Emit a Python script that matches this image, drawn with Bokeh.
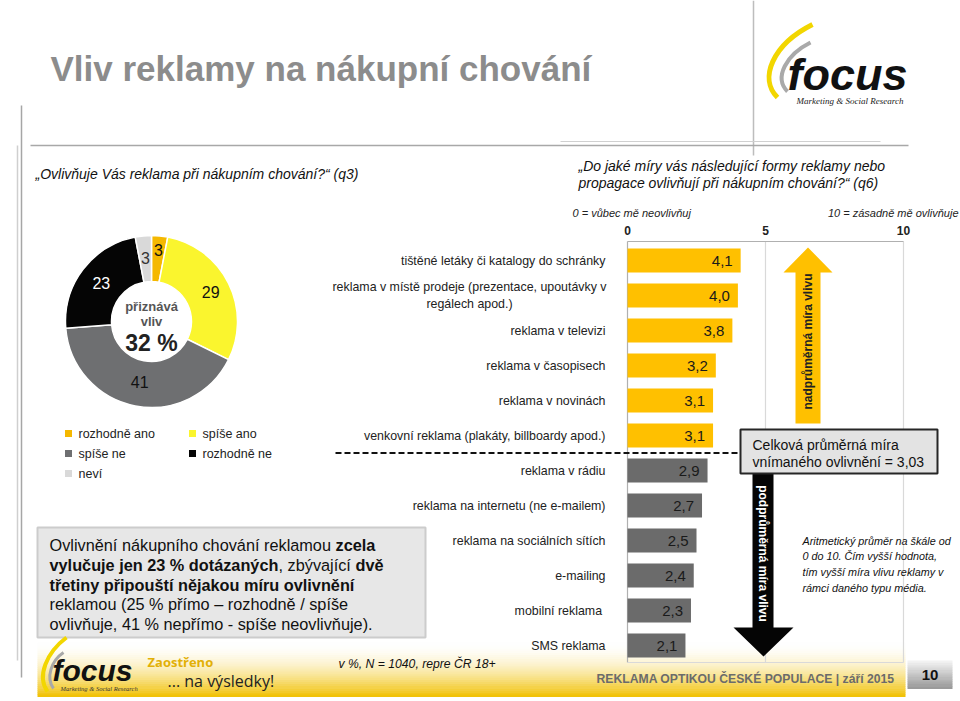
import math
from bokeh.plotting import figure
from bokeh.models import Range1d, ColumnDataSource
from bokeh.core.properties import value
from bokeh.embed import file_html
from bokeh.resources import INLINE

# ---------------- data ----------------
pie_categories = ["rozhodně ano", "spíše ano", "spíše ne", "rozhodně ne", "neví"]
pie_values = [3, 29, 41, 23, 3]

bar_categories = [
    "tištěné letáky či katalogy do schránky",
    "reklama v místě prodeje (prezentace, upoutávky v\nregálech apod.)",
    "reklama v televizi",
    "reklama v časopisech",
    "reklama v novinách",
    "venkovní reklama (plakáty, billboardy apod.)",
    "reklama v rádiu",
    "reklama na internetu (ne e-mailem)",
    "reklama na sociálních sítích",
    "e-mailing",
    "mobilní reklama ",
    "SMS reklama",
]
bar_values = [4.1, 4.0, 3.8, 3.2, 3.1, 3.1, 2.9, 2.7, 2.5, 2.4, 2.3, 2.1]
axis_ticks = [0, 5, 10]
overall_mean = 3.03

# ---------------- styles ----------------
SANS = "Liberation Sans"
PIE_COLORS = ["#F5B800", "#FAF52E", "#6E6F71", "#050505", "#D9D9D9"]
PIE_TEXT = ["#111111", "#111111", "#111111", "#FFFFFF", "#333333"]
PIE_LABEL_R = [72, 66, 62, 63, 64]
BAR_ABOVE = "#FFC000"
BAR_BELOW = "#6B6B6B"

W, H = 960, 701
p = figure(width=W, height=H, x_range=Range1d(0, W), y_range=Range1d(H, 0),
           x_axis_type=None, y_axis_type=None, output_backend="svg",
           toolbar_location=None, min_border=0)
p.grid.visible = False
p.outline_line_color = None
p.background_fill_color = "white"
p.border_fill_color = "white"

# bar chart scales: value 0 -> px 627, 10 -> px 903 ; bar i -> px 260 + 35 i
X0, X10 = 627.0, 903.0
ppu = (X10 - X0) / 10.0
xs = -X0 / ppu
p.extra_x_ranges = {"bar": Range1d(xs, xs + W / ppu)}
Y0, DY = 260.0, 35.0
p.extra_y_ranges = {"bar": Range1d((H - Y0) / DY, -Y0 / DY)}


def txt(x, y, s, size, color="#222222", font=SANS, style="normal",
        align="left", baseline="middle", angle=0.0, **kw):
    p.text(x=[x], y=[y], text=[s], text_font=value(font),
           text_font_size=f"{size}px", text_font_style=style,
           text_color=color, text_align=align, text_baseline=baseline,
           angle=angle, **kw)


# ---------------- footer band (drawn first, beneath everything) ----------------
N = 26
top_f, bot_f = 642.0, 696.0
hstep = (bot_f - top_f) / N
fl, fr, ft, fb, fc = [], [], [], [], []
for k in range(N):
    t = (k + 0.5) / N
    t = t ** 1.8
    r = int(255 + (241 - 255) * t)
    g = int(255 + (192 - 255) * t)
    b = int(255 + (0 - 255) * t)
    fl.append(37); fr.append(905)
    ft.append(top_f + k * hstep); fb.append(top_f + (k + 1) * hstep + 0.5)
    fc.append(f"#{r:02x}{g:02x}{b:02x}")
p.quad(left=fl, right=fr, top=ft, bottom=fb, fill_color=fc, line_color=None)

# page number box
M = 12
pl, pr, pt, pb, pc = [], [], [], [], []
for k in range(M):
    t = (k + 0.5) / M
    c = int(246 + (150 - 246) * t)
    pl.append(907); pr.append(952)
    pt.append(660 + k * 28 / M); pb.append(660 + (k + 1) * 28 / M + 0.5)
    pc.append(f"#{c:02x}{c:02x}{c:02x}")
p.quad(left=pl, right=pr, top=pt, bottom=pb, fill_color=pc, line_color=None)

# ---------------- frame lines ----------------
p.segment(x0=[753], y0=[0], x1=[753], y1=[155], line_color="#BDBDBD", line_width=1.5)
p.segment(x0=[30], y0=[145], x1=[908], y1=[145], line_color="#A8A8A8", line_width=1.5)
p.segment(x0=[560], y0=[141], x1=[880], y1=[141], line_color="#D0D0D0", line_width=1)
p.segment(x0=[17], y0=[145], x1=[17], y1=[660], line_color="#CFCFCF", line_width=1.5)
p.segment(x0=[21], y0=[105], x1=[21], y1=[677], line_color="#A6A6A6", line_width=1.5)

# ---------------- title & questions ----------------
txt(50, 68, "Vliv reklamy na nákupní chování", 35, "#8C8C8C", SANS, "bold")
txt(35, 173, "„Ovlivňuje Vás reklama při nákupním chování?“ (q3)", 14, "#111111", SANS, "italic")
txt(578, 165, "„Do jaké míry vás následující formy reklamy nebo", 14, "#111111", SANS, "italic")
txt(578, 182, "propagace ovlivňují při nákupním chování?“ (q6)", 14, "#111111", SANS, "italic")

# ---------------- top-right logo ----------------
p.bezier(x0=[812], y0=[24], x1=[777], y1=[97], cx0=[772], cy0=[44], cx1=[758], cy1=[78],
         line_color="#F2D600", line_width=5)
p.bezier(x0=[810], y0=[42], x1=[787], y1=[91], cx0=[786], cy0=[54], cx1=[773], cy1=[77],
         line_color="#A9A9A9", line_width=4)
txt(787, 74, "focus", 45, "#111111", SANS, "bold italic")
txt(796, 100, "Marketing & Social Research", 9, "#222222", "Liberation Serif", "italic")

# ---------------- pie (donut) ----------------
CX, CY, R_OUT, R_IN = 151.0, 321.0, 86.0, 40.0
total = float(sum(pie_values))
cum = 0.0
starts, ends, lx, ly = [], [], [], []
for k, v in enumerate(pie_values):
    c0, c1 = cum / total, (cum + v) / total
    cum += v
    starts.append(math.pi / 2 - 2 * math.pi * c1)
    ends.append(math.pi / 2 - 2 * math.pi * c0)
    mid = 2 * math.pi * (c0 + c1) / 2
    lx.append(CX + PIE_LABEL_R[k] * math.sin(mid))
    ly.append(CY - PIE_LABEL_R[k] * math.cos(mid))
pie_src = ColumnDataSource(dict(start=starts, end=ends, color=PIE_COLORS,
                                lx=lx, ly=ly, lab=[str(v) for v in pie_values],
                                tc=PIE_TEXT))
p.annular_wedge(x=CX, y=CY, inner_radius=R_IN, outer_radius=R_OUT,
                inner_radius_units="screen", outer_radius_units="screen",
                start_angle="start", end_angle="end", fill_color="color",
                line_color="white", line_width=1.5, source=pie_src)
p.text(x="lx", y="ly", text="lab", text_color="tc", text_font=value(SANS),
       text_font_size="16px", text_align="center", text_baseline="middle", source=pie_src)
admit = pie_values[0] + pie_values[1]
txt(CX, 306, "přiznává", 13, "#555555", SANS, "bold", "center")
txt(CX, 321, "vliv", 13, "#555555", SANS, "bold", "center")
txt(CX, 342, f"{admit} %", 23, "#222222", SANS, "bold", "center")

# legend
leg_x = [68 + (k % 2) * 124 for k in range(len(pie_categories))]
leg_y = [433 + (k // 2) * 20 for k in range(len(pie_categories))]
p.scatter(x=leg_x, y=leg_y, marker="square", size=7, fill_color=PIE_COLORS, line_color=None)
p.text(x=[x + 10 for x in leg_x], y=leg_y, text=pie_categories, text_font=value(SANS),
       text_font_size="12.5px", text_color="#222222", text_baseline="middle")

# ---------------- left comment box ----------------
p.quad(left=[37], right=[425], top=[527], bottom=[637], fill_color="#E7E7E7",
       line_color="#CCCCCC", line_width=2)
BS = 16.3
txt(49, 544, "Ovlivnění nákupního chování reklamou ", BS, "#111111")
txt(335, 544, "zcela", BS, "#111111", SANS, "bold")
txt(49, 564, "vylučuje jen 23 % dotázaných", BS, "#111111", SANS, "bold")
txt(278, 564, ", zbývající ", BS, "#111111")
txt(355, 564, "dvě", BS, "#111111", SANS, "bold")
txt(49, 584, "třetiny připouští nějakou míru ovlivnění", BS, "#111111", SANS, "bold")
txt(49, 603, "reklamou (25 %  přímo – rozhodně / spíše", BS, "#111111")
txt(49, 623, "ovlivňuje, 41 % nepřímo - spíše neovlivňuje).", BS, "#111111")

# ---------------- bar chart ----------------
idx = list(range(len(bar_values)))
colors = [BAR_ABOVE if v > overall_mean else BAR_BELOW for v in bar_values]
labels = [f"{v:.1f}".replace(".", ",") for v in bar_values]
bar_src = ColumnDataSource(dict(idx=idx, val=bar_values, color=colors, lab=labels))

# grid / axis
p.segment(x0=axis_ticks, x1=axis_ticks, y0=[241] * 3, y1=[662] * 3,
          line_color=["#B0B0B0", "#D9D9D9", "#D9D9D9"], line_width=1.2, x_range_name="bar")
p.segment(x0=[axis_ticks[0], axis_ticks[0]], x1=[axis_ticks[-1], axis_ticks[-1]],
          y0=[241, 662], y1=[241, 662], line_color=["#B0B0B0", "#D9D9D9"],
          line_width=1.2, x_range_name="bar")
p.text(x=axis_ticks, y=[230] * 3, text=[str(t) for t in axis_ticks], text_font=value(SANS),
       text_font_size="12px", text_font_style="bold", text_align="center",
       text_baseline="middle", text_color="#222222", x_range_name="bar")
txt(572, 212, "0 =  vůbec mě neovlivňuj", 11, "#222222", SANS, "italic")
txt(958, 212, "10 = zásadně mě ovlivňuje", 11, "#222222", SANS, "italic", "right")

p.hbar(y="idx", left=0, right="val", height=0.69, fill_color="color", line_color=None,
       source=bar_src, x_range_name="bar", y_range_name="bar")
p.text(x="val", y="idx", text="lab", x_offset=-8, text_align="right", text_baseline="middle",
       text_font=value(SANS), text_font_size="15px", text_color="#1A1A1A",
       source=bar_src, x_range_name="bar", y_range_name="bar")

single = [k for k, c in enumerate(bar_categories) if "\n" not in c]
multi = [k for k, c in enumerate(bar_categories) if "\n" in c]
p.text(x=[0] * len(single), y=single, text=[bar_categories[k] for k in single], x_offset=-22,
       text_align="right", text_baseline="middle", text_font=value(SANS),
       text_font_size="12.4px", text_color="#222222", x_range_name="bar", y_range_name="bar")
p.text(x=[0] * len(multi), y=multi, text=[bar_categories[k] for k in multi], x_offset=-158,
       text_align="center", text_baseline="middle", text_font=value(SANS),
       text_font_size="12.4px", text_color="#222222", text_line_height=1.15,
       x_range_name="bar", y_range_name="bar")

# divider between above- and below-average media
n_above = sum(1 for v in bar_values if v > overall_mean)
p.segment(x0=[335], x1=[740], y0=[n_above - 0.5], y1=[n_above - 0.5], line_color="#111111",
          line_width=2, line_dash="6 3", y_range_name="bar")

# arrows
p.patch(x=[795, 795, 783, 807.5, 832, 820, 820], y=[423, 272, 272, 247, 272, 272, 423],
        fill_color="#FFC000", line_color=None)
txt(807.5, 341, "nadprůměrná míra vlivu", 12, "#222222", SANS, "bold", "center", angle=math.pi / 2)
p.patch(x=[752, 752, 733, 763, 793, 773, 773], y=[473, 627, 627, 656, 627, 627, 473],
        fill_color="#050505", line_color=None)
txt(762.5, 553, "podprůměrná míra vlivu", 12, "#FFFFFF", SANS, "bold", "center", angle=-math.pi / 2)

# mean box
p.quad(left=[740], right=[937], top=[429], bottom=[473], fill_color="#E3E3E3",
       line_color="#262626", line_width=2)
mean_txt = f"{overall_mean:.2f}".replace(".", ",")
txt(752, 444, "Celková průměrná míra", 14, "#111111")
txt(752, 461, f"vnímaného ovlivnění = {mean_txt}", 14, "#111111")

# explanatory note
for k, line in enumerate(["Aritmetický průměr na škále od", "0 do 10. Čím vyšší hodnota,",
                          "tím vyšší míra vlivu reklamy v", "rámci daného typu média."]):
    txt(802, 540 + k * 15.7, line, 10.8, "#111111", SANS, "italic")

# ---------------- footer texts ----------------
txt(929.5, 674, "10", 15, "#111111", SANS, "bold", "center")
txt(596, 678, "REKLAMA OPTIKOU ČESKÉ POPULACE | září 2015", 12.2, "#6B6B6B", SANS, "bold")
txt(338, 663, "v %, N = 1040, repre ČR 18+", 12.2, "#111111", SANS, "italic")

# bottom-left logo
p.bezier(x0=[66], y0=[637], x1=[47], y1=[691], cx0=[46], cy0=[652], cx1=[36], cy1=[676],
         line_color="#F2D600", line_width=4)
p.bezier(x0=[63], y0=[652], x1=[53], y1=[688], cx0=[51], cy0=[660], cx1=[45], cy1=[677],
         line_color="#A9A9A9", line_width=3)
txt(52, 670, "focus", 30, "#111111", SANS, "bold italic")
txt(60, 688, "Marketing & Social Research", 6.5, "#333333", "Liberation Serif", "italic")
txt(147, 661, "Zaostřeno", 13, "#E2B007", "Open Sans", "bold")
txt(167, 680, "... na výsledky!", 16, "#222222", "Open Sans")

open("out.html", "w").write(file_html(p, INLINE))
